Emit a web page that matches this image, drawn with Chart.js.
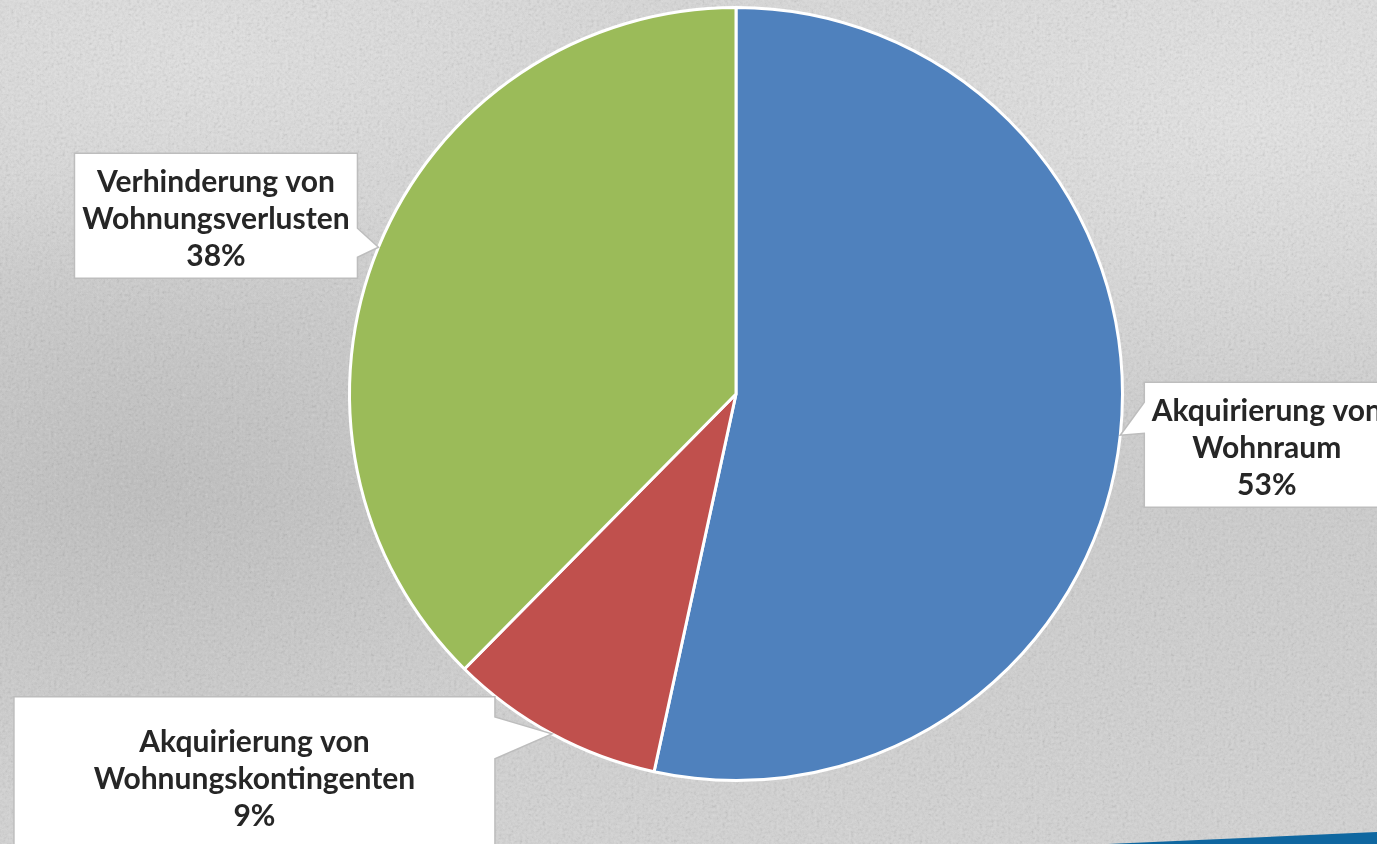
<!DOCTYPE html>
<html lang="de">
<head>
<meta charset="utf-8">
<title>Anteile</title>
<script src="https://cdn.jsdelivr.net/npm/chart.js@4"></script>
<style>
  html, body { margin: 0; padding: 0; }
  body {
    width: 1377px; height: 844px; overflow: hidden; position: relative;
    background-color: #d0d0d0;
    background-image:
      url("data:image/svg+xml;utf8,<svg xmlns='http://www.w3.org/2000/svg' width='400' height='400'><filter id='n'><feTurbulence type='fractalNoise' baseFrequency='0.35' numOctaves='4' seed='7'/><feColorMatrix type='saturate' values='0'/></filter><rect width='400' height='400' filter='url(%23n)' opacity='0.35'/></svg>"),
      radial-gradient(ellipse 450px 320px at 150px 480px, rgba(160,160,160,0.35), rgba(160,160,160,0) 100%),
      radial-gradient(ellipse 600px 300px at 1250px 120px, rgba(240,240,240,0.6), rgba(240,240,240,0) 100%),
      radial-gradient(ellipse 500px 250px at 200px 60px, rgba(235,235,235,0.55), rgba(235,235,235,0) 100%),
      linear-gradient(180deg, #d8d8d8 0%, #cdcdcd 60%, #d4d4d4 100%);
    background-size: 400px 400px, auto, auto, auto, auto;
  }
  #stripe {
    position: absolute; left: 0; top: 0; width: 1377px; height: 844px;
    background: #0f67a0;
    clip-path: polygon(1108px 844px, 1377px 832px, 1377px 844px);
  }
  canvas { position: absolute; left: 0; top: 0; }
</style>
</head>
<body>
<div id="stripe"></div>
<canvas id="chart" width="1377" height="844"></canvas>
<script>
// pie: Aufteilung der Maßnahmen

const categories = [
  'Akquirierung von Wohnraum',
  'Akquirierung von Wohnungskontingenten',
  'Verhinderung von Wohnungsverlusten'
];
const labelLines = [
  ['Akquirierung von', 'Wohnraum'],
  ['Akquirierung von', 'Wohnungskontingenten'],
  ['Verhinderung von', 'Wohnungsverlusten']
];
const shares = [53.4, 9.0, 37.6];
const sliceColors = ['#4f81bd', '#c0504d', '#9bbb59'];

// callout boxes, placed relative to the slice's mid point on the rim
const CALLOUTS = [
  { dx: 24,   dy: -53, w: 245, h: 125, side: 'left',  b0: -33, b1: -2 },
  { dx: -538, dy: -37, w: 481, h: 156, side: 'right', b0: -17, b1: 25 },
  { dx: -304, dy: -94, w: 283, h: 125, side: 'right', b0: -19, b1: 10 }
];

const calloutPlugin = {
  id: 'callouts',
  afterDatasetsDraw(chart) {
    const ctx = chart.ctx;
    const arcs = chart.getDatasetMeta(0).data;
    arcs.forEach((arc, i) => {
      const mid = (arc.startAngle + arc.endAngle) / 2;
      const tx = arc.x + Math.cos(mid) * arc.outerRadius;
      const ty = arc.y + Math.sin(mid) * arc.outerRadius;
      const c = CALLOUTS[i];
      const x0 = tx + c.dx, y0 = ty + c.dy, x1 = x0 + c.w, y1 = y0 + c.h;

      ctx.save();
      ctx.beginPath();
      ctx.moveTo(x0, y0);
      ctx.lineTo(x1, y0);
      if (c.side === 'right') {
        ctx.lineTo(x1, ty + c.b0);
        ctx.lineTo(tx, ty);
        ctx.lineTo(x1, ty + c.b1);
      }
      ctx.lineTo(x1, y1);
      ctx.lineTo(x0, y1);
      if (c.side === 'left') {
        ctx.lineTo(x0, ty + c.b1);
        ctx.lineTo(tx, ty);
        ctx.lineTo(x0, ty + c.b0);
      }
      ctx.closePath();
      ctx.fillStyle = '#ffffff';
      ctx.fill();
      ctx.strokeStyle = '#bdbdbd';
      ctx.lineWidth = 1.5;
      ctx.stroke();

      const lines = labelLines[i].concat([Math.round(shares[i]) + '%']);
      ctx.fillStyle = '#262626';
      ctx.font = 'bold 30px Lato, "Open Sans", sans-serif';
      ctx.textAlign = 'center';
      ctx.textBaseline = 'middle';
      const cx = (x0 + x1) / 2;
      const firstY = y0 + c.h / 2 - 33;
      lines.forEach((t, k) => ctx.fillText(t, cx, firstY + k * 37));
      ctx.restore();
    });
  }
};

new Chart(document.getElementById('chart'), {
  type: 'pie',
  data: {
    labels: categories,
    datasets: [{
      data: shares,
      backgroundColor: sliceColors,
      borderColor: '#ffffff',
      borderWidth: 3
    }]
  },
  options: {
    responsive: false,
    animation: false,
    layout: { padding: { left: 95, right: 0, top: 6, bottom: 62 } },
    plugins: {
      legend: { display: false },
      tooltip: { enabled: false }
    }
  },
  plugins: [calloutPlugin]
});
</script>
</body>
</html>
